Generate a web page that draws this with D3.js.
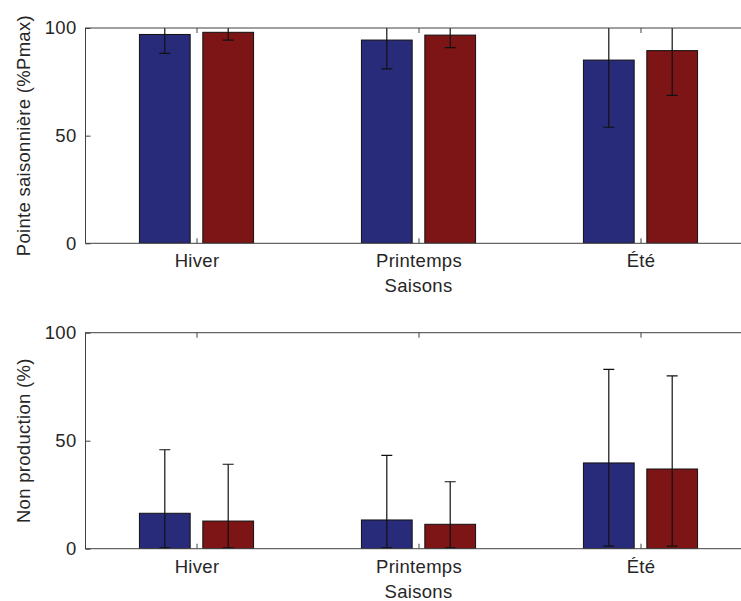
<!DOCTYPE html>
<html>
<head>
<meta charset="utf-8">
<script src="https://cdn.jsdelivr.net/npm/d3@7"></script>
<style>
  html, body { margin: 0; padding: 0; background: #fff; }
  svg { display: block; }
  text { font-family: "Liberation Sans", Arial, sans-serif; fill: #262626; }
</style>
</head>
<body>
<svg id="chart" width="741" height="601"></svg>
<script>
// ---- data ----
const categories = ["Hiver", "Printemps", "Été"];
const yTicks = [0, 50, 100];
const xLabel = "Saisons";
const topYLabel = "Pointe saisonnière (%Pmax)";
const bottomYLabel = "Non production (%)";

// Top panel: seasonal peak (%Pmax)
const topBlue = [97.0, 94.4, 85.1];
const topBlueLow = [88.2, 81.0, 53.9];
const topBlueHigh = [105.8, 107.8, 116.3];
const topRed = [98.0, 96.7, 89.5];
const topRedLow = [94.4, 90.9, 68.7];
const topRedHigh = [101.6, 102.5, 110.3];

// Bottom panel: non production (%)
const botBlue = [16.4, 13.3, 39.7];
const botBlueLow = [0.4, 0.4, 1.2];
const botBlueHigh = [45.8, 43.2, 83.0];
const botRed = [12.8, 11.3, 36.9];
const botRedLow = [0.4, 0.4, 1.2];
const botRedHigh = [39.1, 31.0, 80.0];

// ---- styles ----
const colBlue = "#282a7a";
const colRed = "#7d1416";
const axisCol = "#404040";
const fontSize = 18.5;
const letterSp = "0.3px";

const svg = d3.select("#chart");

const x = d3.scaleLinear().domain([0.5, 3.5]).range([85.5, 751.5]);
const barOffset = 0.1428;
const barWidthU = 0.2286;

function panel(cfg) {
  const { top, bottom, series, ylabel, id } = cfg;
  const y = d3.scaleLinear().domain([0, 100]).range([bottom, top]);
  const g = svg.append("g");

  g.append("clipPath").attr("id", id)
    .append("rect")
    .attr("x", x.range()[0]).attr("y", top)
    .attr("width", x.range()[1] - x.range()[0]).attr("height", bottom - top);

  const plot = g.append("g").attr("clip-path", `url(#${id})`);

  series.forEach((s, si) => {
    const off = si === 0 ? -barOffset : barOffset;
    const rows = categories.map((c, i) => ({ i: i + 1, v: s.vals[i], lo: s.lo[i], hi: s.hi[i] }));
    plot.selectAll(null).data(rows).enter().append("rect")
      .attr("x", d => x(d.i + off - barWidthU / 2))
      .attr("width", d => x(d.i + off + barWidthU / 2) - x(d.i + off - barWidthU / 2))
      .attr("y", d => y(d.v))
      .attr("height", d => y(0) - y(d.v))
      .attr("fill", s.color)
      .attr("stroke", "#111")
      .attr("stroke-width", 1);
  });

  series.forEach((s, si) => {
    const off = si === 0 ? -barOffset : barOffset;
    const rows = categories.map((c, i) => ({ i: i + 1, v: s.vals[i], lo: s.lo[i], hi: s.hi[i] }));
    const eb = plot.selectAll(null).data(rows).enter().append("g")
      .attr("stroke", "#111").attr("stroke-width", 1.2);
    eb.append("line")
      .attr("x1", d => x(d.i + off)).attr("x2", d => x(d.i + off))
      .attr("y1", d => y(d.lo)).attr("y2", d => y(d.hi));
    eb.append("line")
      .attr("x1", d => x(d.i + off) - 5.5).attr("x2", d => x(d.i + off) + 5.5)
      .attr("y1", d => y(d.lo)).attr("y2", d => y(d.lo));
    eb.append("line")
      .attr("x1", d => x(d.i + off) - 5.5).attr("x2", d => x(d.i + off) + 5.5)
      .attr("y1", d => y(d.hi)).attr("y2", d => y(d.hi));
  });

  // axes
  const yAxis = d3.axisLeft(y).tickValues(yTicks).tickSize(-5).tickPadding(9).tickFormat(d3.format("d"));
  const ya = g.append("g").attr("transform", `translate(${x.range()[0]},0)`).call(yAxis);
  ya.select(".domain").remove();

  const xAxis = d3.axisBottom(x).tickValues([1, 2, 3]).tickSize(-5).tickPadding(11)
    .tickFormat(d => categories[d - 1]);
  const xa = g.append("g").attr("transform", `translate(0,${bottom})`).call(xAxis);
  xa.select(".domain").remove();

  const xTop = d3.axisTop(x).tickValues([1, 2, 3]).tickSize(-5).tickFormat("");
  const xt = g.append("g").attr("transform", `translate(0,${top})`).call(xTop);
  xt.select(".domain").remove();

  [ya, xa, xt].forEach(a => {
    a.selectAll("line").attr("stroke", axisCol);
    a.selectAll("text").attr("font-size", fontSize).attr("fill", "#262626")
      .attr("letter-spacing", letterSp)
      .attr("font-family", '"Liberation Sans", Arial, sans-serif');
  });

  // box
  g.append("rect")
    .attr("x", x.range()[0]).attr("y", top)
    .attr("width", x.range()[1] - x.range()[0]).attr("height", bottom - top)
    .attr("fill", "none").attr("stroke", axisCol).attr("stroke-width", 1);

  // labels
  g.append("text")
    .attr("x", x(2)).attr("y", bottom + 49)
    .attr("text-anchor", "middle").attr("font-size", fontSize)
    .attr("letter-spacing", letterSp)
    .text(xLabel);

  g.append("text")
    .attr("transform", `translate(29.5,${(top + bottom) / 2}) rotate(-90)`)
    .attr("text-anchor", "middle").attr("font-size", fontSize)
    .attr("letter-spacing", letterSp)
    .text(ylabel);
}

panel({
  id: "clipTop", top: 28, bottom: 243.3, ylabel: topYLabel,
  series: [
    { vals: topBlue, lo: topBlueLow, hi: topBlueHigh, color: colBlue },
    { vals: topRed, lo: topRedLow, hi: topRedHigh, color: colRed }
  ]
});

panel({
  id: "clipBot", top: 332.7, bottom: 548.7, ylabel: bottomYLabel,
  series: [
    { vals: botBlue, lo: botBlueLow, hi: botBlueHigh, color: colBlue },
    { vals: botRed, lo: botRedLow, hi: botRedHigh, color: colRed }
  ]
});
</script>
</body>
</html>
